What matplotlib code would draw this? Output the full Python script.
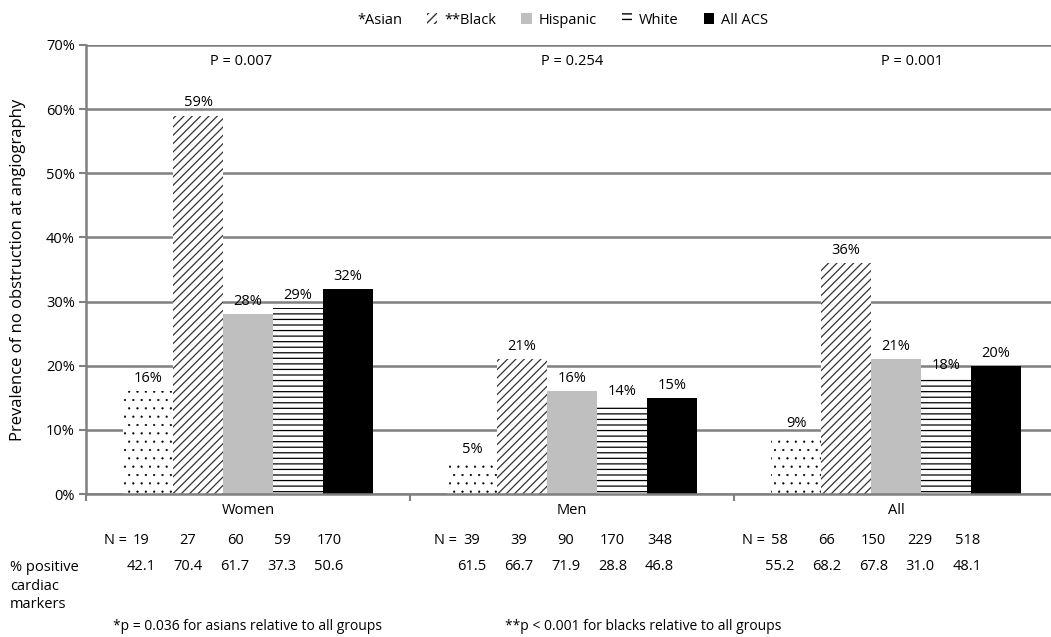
import matplotlib
matplotlib.use("Agg")
import matplotlib.pyplot as plt
from matplotlib.patches import Patch
import numpy as np

groups = ["Women", "Men", "All"]
series = ["*Asian", "**Black", "Hispanic", "White", "All ACS"]
values = {
    "*Asian":   [16, 5, 9],
    "**Black":  [59, 21, 36],
    "Hispanic": [28, 16, 21],
    "White":    [29, 14, 18],
    "All ACS":  [32, 15, 20],
}
p_values = ["P = 0.007", "P = 0.254", "P = 0.001"]
n_counts = [[19, 27, 60, 59, 170], [39, 39, 90, 170, 348], [58, 66, 150, 229, 518]]
pct_positive = [["42.1", "70.4", "61.7", "37.3", "50.6"],
                ["61.5", "66.7", "71.9", "28.8", "46.8"],
                ["55.2", "68.2", "67.8", "31.0", "48.1"]]
footnote1 = "*p = 0.036 for asians relative to all groups"
footnote2 = "**p < 0.001 for blacks relative to all groups"
ylabel = "Prevalence of no obstruction at angiography"

styles = {
    "*Asian":   dict(facecolor="white", hatch="..", edgecolor="black"),
    "**Black":  dict(facecolor="white", hatch="////", edgecolor="#333333"),
    "Hispanic": dict(facecolor="#bfbfbf", hatch=None, edgecolor="#bfbfbf"),
    "White":    dict(facecolor="white", hatch="---", edgecolor="black"),
    "All ACS":  dict(facecolor="black", hatch=None, edgecolor="black"),
}
hatch_lw = {"*Asian": 0.35, "**Black": 0.9, "Hispanic": 0.9, "White": 0.9, "All ACS": 0.9}

plt.rcParams["font.family"] = ["Open Sans", "DejaVu Sans"]
FS = 10.5

W, H = 1051, 637
fig = plt.figure(figsize=(W / 100, H / 100), dpi=100)
ax_left, ax_right, ax_top, ax_bot = 86, 1058, 45, 494
ax = fig.add_axes([ax_left / W, 1 - ax_bot / H, (ax_right - ax_left) / W, (ax_bot - ax_top) / H])

bw = 0.154
x0 = np.arange(len(groups))
for i, s in enumerate(series):
    xs = x0 + 0.115 + bw * i + bw / 2
    with plt.rc_context({"hatch.linewidth": hatch_lw[s]}):
        bars = ax.bar(xs, values[s], width=bw, linewidth=0, **styles[s])
    for xx, v in zip(xs, values[s]):
        ax.text(xx, v + 0.8, f"{v}%", ha="center", va="bottom", fontsize=FS)

ax.set_xlim(0, 3)
ax.set_ylim(0, 70)
ax.set_yticks(np.arange(0, 71, 10))
ax.set_yticklabels([f"{t}%" for t in range(0, 71, 10)], fontsize=FS)
ax.set_xticks([0, 1, 2, 3])
ax.set_xticklabels([])
ax.tick_params(axis="x", length=5, color="#808080", width=1.5)
ax.tick_params(axis="y", length=5, color="#808080", width=1.5, pad=3)
ax.yaxis.grid(True, color="#808080", linewidth=1.8)
ax.set_axisbelow(True)
for sp in ["top", "right"]:
    ax.spines[sp].set_visible(False)
for sp in ["left", "bottom"]:
    ax.spines[sp].set_color("#808080")
    ax.spines[sp].set_linewidth(1.8)
ax.set_ylabel(ylabel, fontsize=12, labelpad=14)

# P values
p_x = [0.48, 1.5, 2.55]
for px, pt in zip(p_x, p_values):
    ax.text(px, 67.5, pt, ha="center", va="center", fontsize=FS)

# group labels and table rows (x in data coords, y in figure pixels)
trans = matplotlib.transforms.blended_transform_factory(ax.transData, fig.transFigure)
col_shift = [-0.04, -0.02, -0.07]
for g, name in enumerate(groups):
    ax.text(g + 0.5, 1 - 510 / H, name, transform=trans, ha="center", va="center", fontsize=FS)
    cols = g + 0.5 + col_shift[g] + (np.arange(5) - 2) * 0.145
    for k in range(5):
        ax.text(cols[k], 1 - 541 / H, str(n_counts[g][k]), transform=trans,
                ha="center", va="center", fontsize=FS)
        ax.text(cols[k], 1 - 567 / H, pct_positive[g][k], transform=trans,
                ha="center", va="center", fontsize=FS)
    ax.text(cols[0] - 0.045, 1 - 540 / H, "N =", transform=trans,
            ha="right", va="center", fontsize=FS)

fig.text(10 / W, 1 - 586 / H, "% positive\ncardiac\nmarkers", ha="left", va="center",
         fontsize=FS, linespacing=1.3)
fig.text(113 / W, 1 - 626 / H, footnote1, ha="left", va="center", fontsize=10)
fig.text(505 / W, 1 - 626 / H, footnote2, ha="left", va="center", fontsize=10)

handles = []
for s in series:
    if s == "*Asian":
        handles.append(Patch(facecolor="white", edgecolor="white", linewidth=0, label=s))
    else:
        handles.append(Patch(linewidth=0, label=s, **styles[s]))
fig.legend(handles=handles, loc="center", bbox_to_anchor=(554 / W, 1 - 20 / H), ncol=5,
           frameon=False, fontsize=FS, handlelength=0.7, handleheight=0.7,
           handletextpad=0.5, columnspacing=1.7)

fig.savefig("out.png", dpi=100)
